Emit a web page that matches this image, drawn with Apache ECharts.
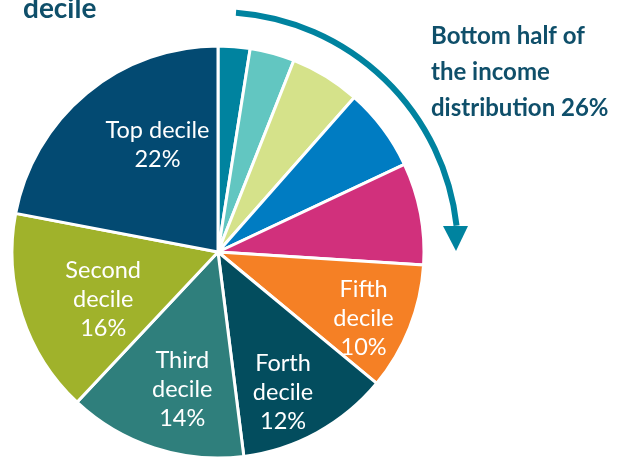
<!DOCTYPE html>
<html><head><meta charset="utf-8">
<script src="https://cdn.jsdelivr.net/npm/echarts@6/dist/echarts.min.js"></script>
<style>html,body{margin:0;padding:0;background:#fff}#c{width:621px;height:459px}</style>
</head><body><div id="c"></div>
<script>
// Data (clockwise from 12 o'clock)
var categories = ['Bottom decile','Ninth decile','Eighth decile','Seventh decile','Sixth decile',
                  'Fifth\ndecile','Forth\ndecile','Third\ndecile','Second\ndecile','Top decile'];
var shares = [2.5, 3.5, 5.5, 6.5, 8, 10, 12, 14, 16, 22];
var showLabel = [false,false,false,false,false,true,true,true,true,true];

// Styles (kept apart from data)
var colors = ['#00839f','#62c6c1','#d5e28a','#007cc2','#d1307c','#f58025','#034d5e','#2f7f7c','#a0b22b','#034a72'];
var labelShift = [[0,0],[0,0],[0,0],[0,0],[0,0],[47,27],[14,48],[-3,37],[-14,15],[7,-25]];
var CX = 218, CY = 252, R = 206;

var chart = echarts.init(document.getElementById('c'));
chart.setOption({
  animation: false,
  series: [{
    type: 'pie',
    center: [CX, CY],
    radius: [0, R],
    startAngle: 90,
    clockwise: true,
    itemStyle: { borderColor: '#ffffff', borderWidth: 3 },
    label: {
      show: true, position: 'inside', color: '#ffffff',
      fontFamily: 'Lato', fontSize: 23.5, lineHeight: 29,
      formatter: function (p) { return p.name + '\n' + p.value + '%'; }
    },
    labelLine: { show: false },
    emphasis: { disabled: true },
    labelLayout: function (p) {
      var s = labelShift[p.dataIndex];
      return { dx: s[0], dy: s[1] };
    },
    data: categories.map(function (n, i) {
      return { name: n, value: shares[i], itemStyle: { color: colors[i] }, label: { show: showLabel[i] } };
    })
  }],
  graphic: [
    { type: 'arc', shape: { cx: CX, cy: CY, r: 240, startAngle: -Math.PI/2 + 0.075, endAngle: -0.11, clockwise: true },
      style: { stroke: '#00839f', lineWidth: 6, fill: null } },
    { type: 'polygon', shape: { points: [[443,226],[468,226],[456,251]] }, style: { fill: '#00839f' } },
    { type: 'text', left: 431, top: 18,
      style: { text: '{a|Bottom half of}\n{a|the income}\n{a|distribu}{b|tion 26%}', fill: '#0f4f6a', font: 'bold 24px Lato', lineHeight: 36,
        rich: {
          a: { fill: '#0f4f6a', fontFamily: 'Lato', fontWeight: 'bold', fontSize: 24, lineHeight: 36 },
          b: { fill: '#0f4f6b', fontFamily: 'Lato', fontWeight: 'bold', fontSize: 24, lineHeight: 36 }
        } } },
    { type: 'text', left: 23, top: -5,
      style: { text: 'decile', fill: '#0f4f6a', font: 'bold 28px Lato' } }
  ]
});
</script></body></html>
